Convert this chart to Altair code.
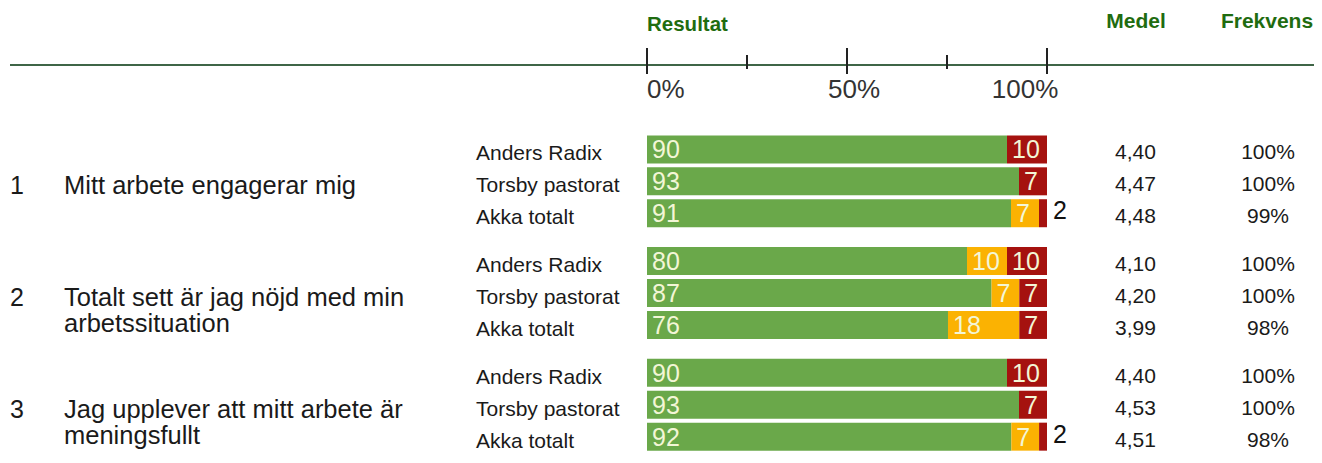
import altair as alt
import pandas as pd

# ---------------- data ----------------
groups = ["Anders Radix", "Torsby pastorat", "Akka totalt"]
questions = [
    "Mitt arbete engagerar mig",
    "Totalt sett är jag nöjd med min\narbetssituation",
    "Jag upplever att mitt arbete är\nmeningsfullt",
]
question_nums = ["1", "2", "3"]

green = [90, 93, 91, 80, 87, 76, 90, 93, 92]
yellow = [0, 0, 7, 10, 7, 18, 0, 0, 7]
red = [10, 7, 2, 10, 7, 7, 10, 7, 2]

medel = ["4,40", "4,47", "4,48", "4,10", "4,20", "3,99", "4,40", "4,53", "4,51"]
frekvens = ["100%", "100%", "99%", "100%", "100%", "98%", "100%", "100%", "98%"]

tick_values = [0, 25, 50, 75, 100]
tick_major = [True, False, True, False, True]
tick_label_values = [0, 50, 100]
tick_labels = ["0%", "50%", "100%"]

cat_names = ["Positiv", "Neutral", "Negativ"]
cat_colors = ["#6aa84a", "#fbb202", "#a5120f"]

# ---------------- tables ----------------
FONT = "Liberation Sans"
GAP = 3.5  # row slots between question blocks

rows, segs = [], []
for qi in range(len(questions)):
    for gi in range(len(groups)):
        i = qi * len(groups) + gi
        pos = qi * GAP + gi
        rows.append(dict(row=pos, group=groups[gi], medel=medel[i], frekvens=frekvens[i]))
        for k, vals in enumerate([green, yellow, red]):
            v = vals[i]
            if v > 0:
                segs.append(dict(row=pos, cat=cat_names[k], order=k, val=v, label=str(v)))
rows_df = pd.DataFrame(rows)
seg_df = pd.DataFrame(segs)
q_df = pd.DataFrame(dict(row=[qi * GAP + 1 for qi in range(len(questions))],
                         num=question_nums, text=questions))
tick_df = pd.DataFrame(dict(t=[v / 100 for v in tick_values], major=tick_major))

W, H = 1306, 447
X = alt.Scale(domain=[-1.5975, 1.6675], nice=False, zero=False)
Y = alt.Scale(domain=[-4.273, 9.418], nice=False, zero=False, reverse=True)

# ---------------- bars ----------------
base_seg = alt.Chart(seg_df).transform_stack(
    stack="val", groupby=["row"], as_=["v0", "v1"], offset="normalize",
    sort=[alt.SortField("order", order="ascending")],
)
bars = base_seg.mark_bar(size=28).encode(
    x=alt.X("v0:Q", scale=X, axis=None),
    x2="v1:Q",
    y=alt.Y("row:Q", scale=Y, axis=None),
    color=alt.Color("cat:N", scale=alt.Scale(domain=cat_names, range=cat_colors), legend=None),
)
labels_in = base_seg.transform_filter("datum.val >= 5").mark_text(
    align="left", baseline="middle", dx=5, dy=1, fontSize=25, font=FONT, color="#f3f6d6"
).encode(x=alt.X("v0:Q", scale=X, axis=None), y=alt.Y("row:Q", scale=Y, axis=None), text="label:N")
labels_out = base_seg.transform_filter("datum.val < 5").mark_text(
    align="left", baseline="middle", dx=6, dy=-2, fontSize=25, font=FONT, color="#111111"
).encode(x=alt.X("v1:Q", scale=X, axis=None), y=alt.Y("row:Q", scale=Y, axis=None), text="label:N")

# ---------------- header axis ----------------
dummy = pd.DataFrame({"a": [0]})
top_line = alt.Chart(dummy).mark_rule(color="#3f6547", strokeWidth=2).encode(
    x=alt.value(2), x2=alt.value(W), y=alt.value(57)
)
major_ticks = alt.Chart(tick_df).transform_filter("datum.major").mark_rule(
    color="#222222", strokeWidth=2
).encode(x=alt.X("t:Q", scale=X, axis=None), y=alt.value(40), y2=alt.value(66))
minor_ticks = alt.Chart(tick_df).transform_filter("!datum.major").mark_rule(
    color="#222222", strokeWidth=2
).encode(x=alt.X("t:Q", scale=X, axis=None), y=alt.value(47), y2=alt.value(61))

tick_text_layers = []
offsets = [("left", 0), ("center", 7), ("center", -22)]
for val, lab, (al, dx) in zip(tick_label_values, tick_labels, offsets):
    tick_text_layers.append(
        alt.Chart(dummy).mark_text(
            text=lab, align=al, baseline="middle", dx=dx, fontSize=26, font=FONT, color="#333333"
        ).encode(x=alt.X(datum=val / 100, scale=X, axis=None), y=alt.value(82))
    )

HEAD_COLOR = "#1f6c10"
head_res = alt.Chart(dummy).mark_text(
    text="Resultat", align="left", baseline="middle", fontSize=20.5, fontWeight="bold",
    font=FONT, color=HEAD_COLOR,
).encode(x=alt.X(datum=0, scale=X, axis=None), y=alt.value(17))
head_medel = alt.Chart(dummy).mark_text(
    text="Medel", align="center", baseline="middle", fontSize=21, fontWeight="bold",
    font=FONT, color=HEAD_COLOR,
).encode(x=alt.value(1128), y=alt.value(14))
head_frek = alt.Chart(dummy).mark_text(
    text="Frekvens", align="center", baseline="middle", fontSize=21, fontWeight="bold",
    font=FONT, color=HEAD_COLOR,
).encode(x=alt.value(1259), y=alt.value(14))

# ---------------- row texts ----------------
q_nums = alt.Chart(q_df).mark_text(
    align="left", baseline="middle", dy=5, fontSize=25, font=FONT, color="#1a1a1a"
).encode(x=alt.value(2), y=alt.Y("row:Q", scale=Y, axis=None), text="num:N")
q_text = alt.Chart(q_df).mark_text(
    align="left", baseline="middle", dy=5, fontSize=25.5, font=FONT, color="#1a1a1a",
    lineBreak="\n", lineHeight=26,
).encode(x=alt.value(56), y=alt.Y("row:Q", scale=Y, axis=None), text="text:N")
g_text = alt.Chart(rows_df).mark_text(
    align="left", baseline="middle", dy=5, fontSize=21, font=FONT, color="#1a1a1a"
).encode(x=alt.value(468), y=alt.Y("row:Q", scale=Y, axis=None), text="group:N")
m_text = alt.Chart(rows_df).mark_text(
    align="center", baseline="middle", dy=4, fontSize=21, font=FONT, color="#1a1a1a"
).encode(x=alt.value(1127.5), y=alt.Y("row:Q", scale=Y, axis=None), text="medel:N")
f_text = alt.Chart(rows_df).mark_text(
    align="center", baseline="middle", dy=4, fontSize=21, font=FONT, color="#1a1a1a"
).encode(x=alt.value(1260), y=alt.Y("row:Q", scale=Y, axis=None), text="frekvens:N")

chart = alt.layer(
    top_line, major_ticks, minor_ticks, *tick_text_layers,
    head_res, head_medel, head_frek,
    bars, labels_in, labels_out,
    q_nums, q_text, g_text, m_text, f_text,
).properties(
    width=W, height=H, padding=0,
    autosize=alt.AutoSizeParams(type="none"),
).configure_view(stroke=None)

chart.save("out.html", embed_options={"renderer": "svg", "actions": False})
